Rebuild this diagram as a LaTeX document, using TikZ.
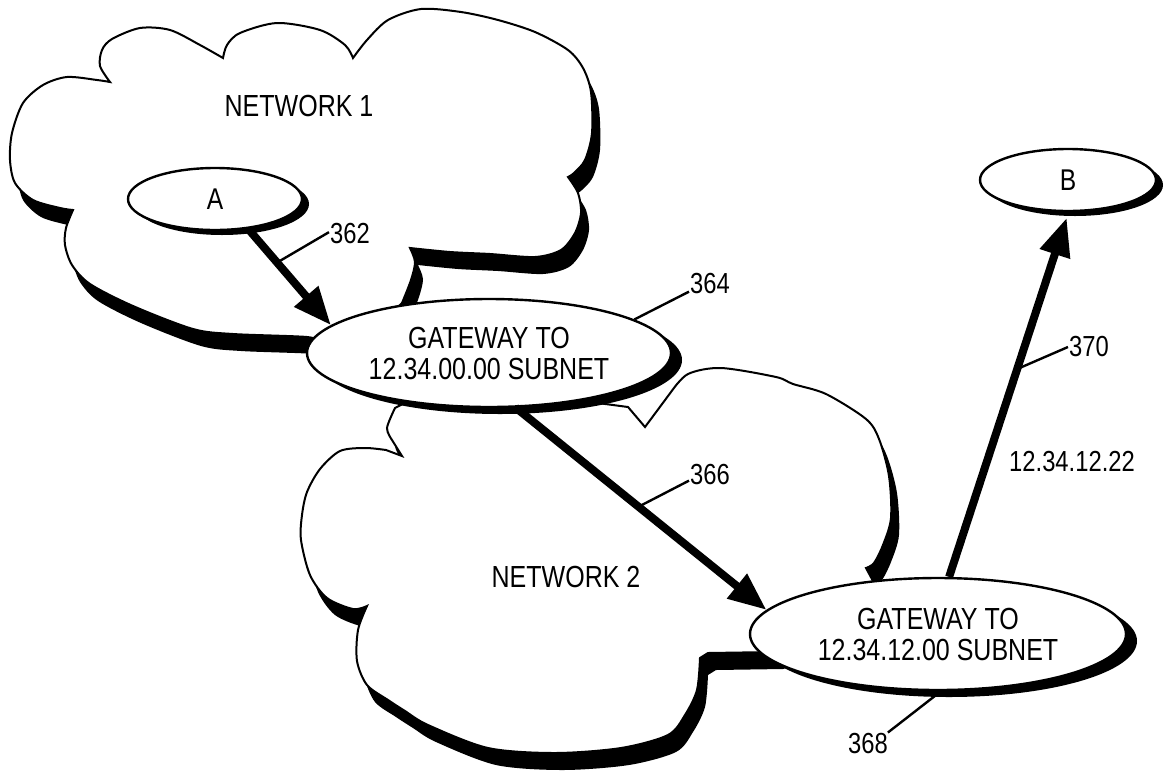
\documentclass[tikz,border=0pt]{standalone}
\usepackage{fontspec}
\setmainfont{Liberation Sans}[FakeStretch=0.82]
\usetikzlibrary{shapes.geometric,arrows.meta,shadows}

\newcommand{\netone}{(110,82)
  -- plot[smooth] coordinates {(110,82) (100,66) (102,50) (112,39) (140,28) (170,30) (200,45) (223,58)}
  -- plot[smooth] coordinates {(223,58) (227,45) (240,33) (277,23) (320,30) (345,45) (353,58)}
  -- plot[smooth] coordinates {(353,58) (367,40) (388,20) (421,9) (461,12) (498,20) (535,32) (568,50) (583,68) (591,92) (592,133) (585,160) (574,173) (568,177)}
  -- plot[smooth] coordinates {(568,177) (578,193) (581,213) (575,233) (561,250) (535,257) (490,254) (450,252) (410,248)}
  -- plot[smooth] coordinates {(410,248) (415,262) (411,280) (402,303)}
  -- (360,345) -- (318,342)
  -- plot[smooth] coordinates {(318,342) (307,337) (233,334) (193,329) (133,306) (90,284) (72,265) (65,245) (66,228) (73,210)}
  -- plot[smooth] coordinates {(73,210) (60,208) (33,200) (15,183) (10,160) (12,133) (23,103) (43,85) (67,77) (97,80) (110,82)}
  -- cycle}

\newcommand{\nettwo}{(480,395) -- (560,398) -- (628,407) -- (645,427) -- (671,392)
  -- plot[smooth] coordinates {(671,392) (688,374) (721,368) (776,377) (793,384) (826,394) (866,419) (879,439) (889,476) (891,518) (883,545) (874,563) (866,568)}
  -- (873,581) -- (850,630) -- (775,652) -- (708,653)
  -- plot[smooth] coordinates {(700,658) (697,690) (685,715) (668,735) (621,748) (555,753) (488,748) (428,725) (405,711) (388,700) (367,685) (357,661) (358,630) (367,606)}
  -- plot[smooth] coordinates {(367,606) (353,609) (327,598) (310,575) (301,540) (302,515) (307,492) (320,469) (340,451) (365,448) (386,450)}
  -- (402,456) -- (392,440)
  -- plot[smooth] coordinates {(392,440) (387,428) (395,408)}
  -- (420,395) -- cycle}

\begin{document}
\begin{tikzpicture}[x=1pt,y=-1pt,
  net/.style={draw,line width=2pt,fill=white},
  netshade/.style={fill=black,shift={(8,17)}},
  host/.style={ellipse,draw,line width=2.4pt,fill=white,inner sep=0pt,
    font=\fontsize{30}{31}\selectfont,
    general shadow={fill=black,shadow xshift=7pt,shadow yshift=-5pt}},
  gateway/.style={ellipse,draw,line width=2.4pt,fill=white,inner sep=0pt,align=center,
    font=\fontsize{30.5}{31}\selectfont,
    general shadow={fill=black,shadow xshift=11pt,shadow yshift=-7pt}},
  lbl/.style={font=\fontsize{30.5}{31}\selectfont},
  num/.style={inner sep=1pt,font=\fontsize{29}{30}\selectfont},
  flow/.style={line width=8pt,-{Triangle[length=38pt,width=30pt]}},
  leader/.style={line width=2.4pt}]
  \useasboundingbox (0,0) rectangle (1164,777);
  \fill[netshade] \netone;
  \draw[net] \netone;
  \fill[netshade] \nettwo;
  \draw[net] \nettwo;
  \node[lbl] (n1) at (299,106) {NETWORK 1};
  \node[lbl] (n2) at (566,577) {NETWORK 2};
  \node[host,minimum width=174pt,minimum height=62pt] (A) at (215,199) {A};
  \node[host,minimum width=176pt,minimum height=62pt] (B) at (1068,180) {B};
  \node[gateway,minimum width=364pt,minimum height=108pt] (gw1) at (489,353) {GATEWAY TO\\12.34.00.00 SUBNET};
  \node[gateway,minimum width=376pt,minimum height=112pt] (gw2) at (938,634) {GATEWAY TO\\12.34.12.00 SUBNET};
  \draw[flow] (A.-42) -- coordinate[pos=.35] (p362) (gw1.170);
  \draw[flow] (gw1.-64) -- coordinate[pos=.49] (p366) (gw2.172);
  \draw[flow,shorten >=6pt] (gw2.79) -- coordinate[pos=.57] (p370) (B.-89);
  \node[num] (l362) at (350,234) {362};
  \node[num] (l364) at (710,284) {364};
  \node[num] (l366) at (710,475) {366};
  \node[num] (l370) at (1089,347) {370};
  \node[num] (l368) at (868,744) {368};
  \node[num] (ip) at (1072,462) {12.34.12.22};
  \draw[leader] (p362) -- (l362.175);
  \draw[leader] (gw1.13) -- (l364.200);
  \draw[leader] (p366) -- (l366.195);
  \draw[leader] (p370) -- (l370.west);
  \draw[leader] (gw2.-87) -- (l368.30);
\end{tikzpicture}
\end{document}
